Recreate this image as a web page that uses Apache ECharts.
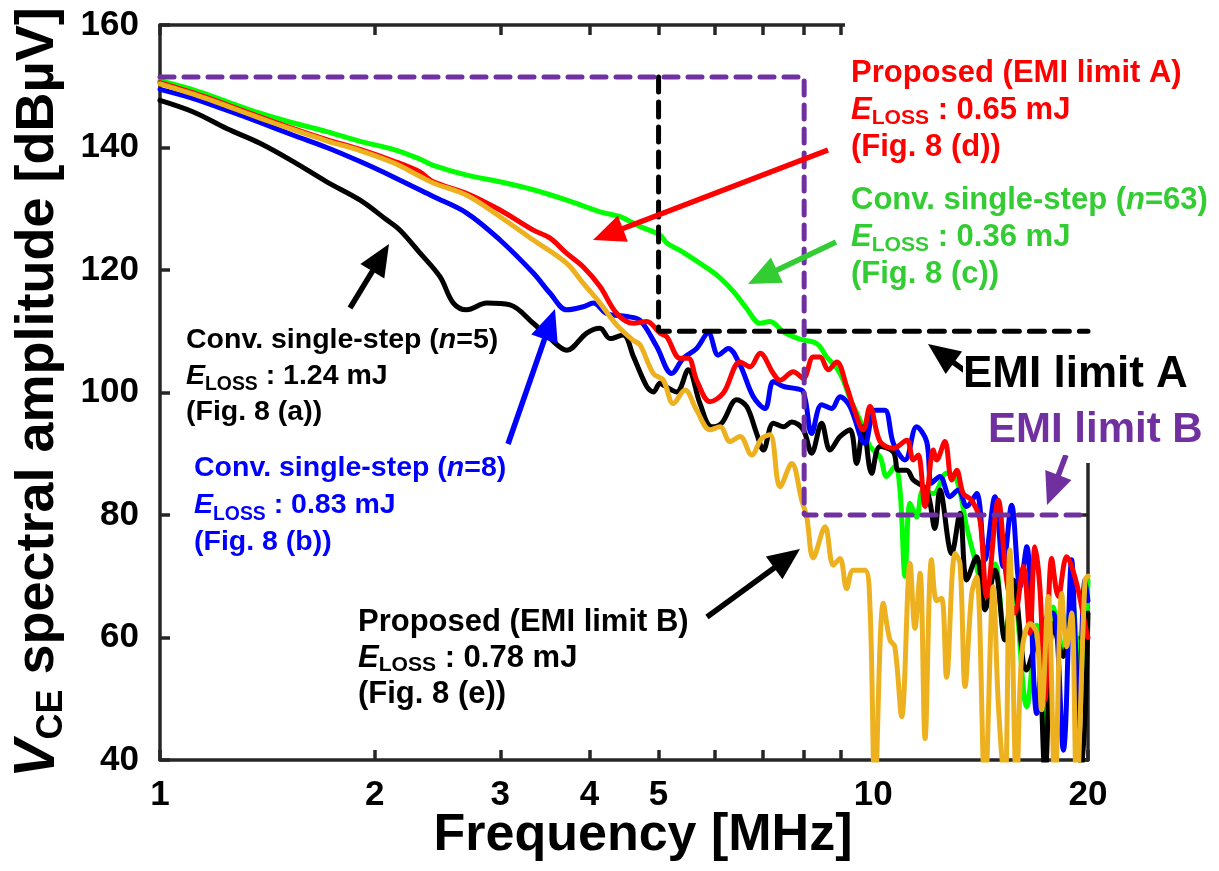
<!DOCTYPE html>
<html>
<head>
<meta charset="utf-8">
<script src="https://cdn.jsdelivr.net/npm/echarts@6/dist/echarts.min.js"></script>
<style>
html,body{margin:0;padding:0;background:#fff;}
#chart{width:1219px;height:871px;}
</style>
</head>
<body>
<div id="chart"></div>
<script>
// Axis ticks
const xTickValues = [1, 2, 3, 4, 5, 6, 7, 8, 9, 10, 20];
const xLabelValues = [1, 2, 3, 4, 5, 10, 20];
const yTicks = [40, 60, 80, 100, 120, 140, 160];

// EMI limits [MHz], [dBuV]
const limitAFreq = [5, 5, 20];
const limitAAmp = [151.5, 110, 110];
const limitBFreq = [1, 8, 8, 20];
const limitBAmp = [151.5, 151.5, 80, 80];

// Conv. single-step (n=5)
const blackFreq = [1.0, 1.114, 1.24, 1.381, 1.538, 1.713, 1.908, 2.078, 2.17, 2.314, 2.469, 2.578, 2.692, 2.871, 3.095, 3.337, 3.523, 3.718, 3.965, 4.139, 4.275, 4.462, 4.609, 4.812, 4.917, 5.023, 5.077, 5.301, 5.503, 5.715, 5.935, 6.13, 6.435, 6.646, 6.863, 7.013, 7.243, 7.481, 7.685, 7.978, 8.196, 8.464, 8.697, 8.982, 9.275, 9.477, 9.683, 9.948, 10.22, 10.67, 10.84, 11.14, 11.38, 11.88, 12.2, 12.4, 12.88, 13.23, 13.52, 13.96, 14.34, 14.81, 15.29, 15.71, 16.41, 16.95, 17.41, 17.88, 18.47, 18.97, 19.6, 20];
const blackAmp = [147.7, 145.8, 143.1, 140.7, 137.7, 134.4, 131.4, 128.2, 126.5, 122.8, 118.9, 114.6, 113.5, 114.6, 114.3, 111.3, 108.8, 106.9, 109.7, 110.5, 108.8, 109.4, 105.9, 101, 100.1, 101.5, 101.2, 100.1, 103.7, 98.2, 94.4, 95, 98.8, 97.7, 93.3, 90.6, 95, 94.4, 95.2, 93.9, 90.1, 95, 90.6, 92.8, 93.9, 88.4, 94.4, 86.8, 91.2, 90.3, 87.3, 87.3, 85.7, 84.1, 77.8, 84.1, 73.7, 80.3, 69.4, 73.2, 64.5, 71, 59.6, 69.4, 54.7, 59.6, 38, 62.3, 56.9, 64, 38, 64];

// Conv. single-step (n=8)
const blueFreq = [1.0, 1.114, 1.24, 1.381, 1.538, 1.713, 1.908, 2.124, 2.416, 2.692, 2.997, 3.337, 3.523, 3.718, 3.922, 4.05, 4.229, 4.511, 4.709, 4.97, 5.216, 5.415, 5.654, 5.871, 6.064, 6.262, 6.504, 6.79, 7.051, 7.243, 7.481, 7.725, 7.978, 8.196, 8.464, 8.745, 8.982, 9.275, 9.734, 10.055, 10.38, 10.67, 11.08, 11.5, 11.88, 12.07, 12.4, 12.81, 13.16, 13.52, 13.96, 14.34, 14.81, 15.21, 15.63, 16.06, 16.41, 16.95, 17.41, 17.88, 18.47, 18.97, 19.38, 19.81, 20];
const blueAmp = [149.5, 148, 146.1, 144.1, 142, 140, 137.7, 135.2, 132, 129.3, 124.9, 119.5, 116.2, 113.5, 114, 114.6, 112.9, 112.4, 111.8, 107.5, 103.1, 105.6, 107.2, 109.7, 106.1, 107.2, 104.5, 99.3, 97.4, 101.8, 101, 100.7, 100.1, 93.3, 98, 97.4, 99.3, 97.7, 91.7, 97.1, 97.1, 91.7, 89, 94.4, 92, 85.2, 86.3, 83, 84.1, 81.4, 83.5, 72.7, 83, 71.6, 81.6, 68.3, 74.8, 47.6, 62.9, 64, 41.6, 72.7, 46, 69.4, 66];

// Conv. single-step (n=63)
const greenFreq = [1.0, 1.114, 1.24, 1.381, 1.538, 1.713, 1.908, 2.124, 2.314, 2.416, 2.692, 2.997, 3.337, 3.718, 4.139, 4.415, 4.709, 5.023, 5.133, 5.358, 5.715, 6.03, 6.364, 6.646, 6.938, 7.167, 7.481, 7.894, 8.33, 8.605, 8.887, 9.078, 9.275, 9.579, 9.894, 10.22, 10.44, 10.72, 10.9, 11.08, 11.26, 11.5, 11.75, 12.14, 12.67, 13.09, 13.52, 13.96, 14.34, 14.81, 15.29, 15.71, 16.41, 16.95, 17.41, 17.88, 18.47, 18.97, 19.6, 20];
const greenAmp = [150.9, 149.4, 147.5, 145.6, 144, 142.6, 141, 139.7, 138.1, 137.1, 135.5, 134.4, 133.1, 131.4, 129.5, 128.7, 127.1, 125.7, 124.4, 123.2, 121.1, 119.2, 116.5, 113.7, 111.3, 111.6, 109.9, 108.7, 108, 105.8, 104, 102, 99, 95.5, 91.2, 89.5, 86.3, 87.9, 84.1, 70, 81.9, 79.7, 84.1, 83.5, 86.8, 85.7, 78, 71.6, 66, 72, 60, 68, 48.7, 62, 45, 65, 58, 66, 48, 69.4];

// Proposed (EMI limit A)
const redFreq = [1.0, 1.114, 1.24, 1.381, 1.538, 1.713, 1.908, 2.124, 2.314, 2.416, 2.692, 2.997, 3.337, 3.523, 3.718, 3.922, 4.139, 4.369, 4.609, 4.812, 5.023, 5.133, 5.358, 5.503, 5.654, 5.903, 6.163, 6.504, 6.716, 6.938, 7.243, 7.402, 7.725, 7.978, 8.238, 8.419, 8.649, 8.887, 9.177, 9.374, 9.683, 9.894, 10.22, 10.67, 11.14, 11.38, 11.56, 11.82, 12.14, 12.27, 12.6, 12.88, 13.09, 13.37, 13.74, 14.11, 14.42, 14.97, 15.38, 15.8, 16.23, 16.58, 16.85, 17.13, 17.41, 17.79, 18.17, 18.67, 19.28, 19.92, 20];
const redAmp = [150.6, 148.9, 147, 145, 143.1, 141.3, 139.7, 137.8, 136, 134.4, 132.5, 129.8, 126.5, 125.2, 122.7, 120.5, 117.3, 112.9, 111.3, 111.6, 109.7, 109.1, 105.6, 105.6, 102, 98.5, 99.9, 105, 104.2, 106.4, 103.1, 102, 103.4, 102.3, 105.8, 105.8, 103.7, 105, 101, 97.7, 93.9, 97.7, 92, 90.9, 92.2, 89, 89.8, 81.4, 90.6, 89, 92, 85.7, 87.3, 83.5, 82.4, 79.2, 66.7, 82.4, 69.4, 64, 71.6, 60.7, 74.8, 67.8, 49.8, 72.9, 66.7, 73.2, 68.8, 60.7, 60];

// Proposed (EMI limit B)
const orangeFreq = [1.0, 1.114, 1.24, 1.381, 1.538, 1.713, 1.908, 2.124, 2.314, 2.416, 2.692, 2.997, 3.337, 3.718, 3.922, 4.139, 4.369, 4.609, 4.709, 4.917, 5.077, 5.243, 5.445, 5.654, 5.903, 6.098, 6.297, 6.504, 6.754, 6.976, 7.167, 7.402, 7.685, 7.938, 8.066, 8.238, 8.559, 8.789, 8.982, 9.177, 9.374, 9.734, 9.894, 10.055, 10.33, 10.55, 10.72, 10.96, 11.26, 11.44, 11.63, 11.82, 12.07, 12.27, 12.47, 12.67, 13.02, 13.23, 13.45, 13.74, 13.96, 14.34, 14.73, 14.97, 15.29, 15.54, 15.89, 16.15, 16.58, 16.95, 17.22, 17.59, 17.98, 18.37, 18.67, 18.97, 19.28, 19.81, 20];
const orangeAmp = [150.4, 148.7, 146.8, 144.8, 142.9, 141.1, 139.5, 137.5, 135.3, 134.2, 132.2, 128.7, 124.9, 121.1, 117.8, 114.6, 111, 108.5, 107.8, 103.1, 102, 98.2, 100.4, 97.1, 93.9, 94.4, 92, 92.8, 89.8, 92.5, 93.1, 84.6, 88.4, 82.4, 79.7, 73, 78.1, 71.8, 72.9, 68, 71, 71, 65, 35, 65.6, 59.6, 58.5, 47.1, 72.1, 61.5, 70.5, 43.5, 72.7, 66, 66.4, 53.5, 73.7, 72.1, 52, 67.2, 69.9, 35, 68.3, 49.3, 35, 74.3, 35, 57.4, 62.3, 60.7, 48.2, 66.7, 35, 67.2, 58.5, 64, 35, 69.4, 70];

const zip = (xs, ys) => xs.map((x, i) => [x, ys[i]]);

const AXIS_COLOR = '#262626';
const FONT = '"Liberation Sans", Arial, sans-serif';
const PURPLE = '#7030a0';
const GREEN_TXT = '#33cc33';

const chart = echarts.init(document.getElementById('chart'), null, { renderer: 'canvas' });

const lineSeries = (name, xs, ys, color, z) => ({
  name, type: 'line', data: zip(xs, ys), showSymbol: false, smooth: 0.35,
  lineStyle: { color, width: 5, cap: 'round', join: 'round' }, z, clip: true, animation: false
});

const limitSeries = (name, xs, ys, color, dash, width) => ({
  name, type: 'line', data: zip(xs, ys), showSymbol: false,
  lineStyle: { color, width, type: dash, cap: 'round' }, z: 10, animation: false
});

// Rich text styles for the annotation blocks
const subRich = (color, size, lh) => ({
  b: { fontFamily: FONT, fontWeight: 'bold', fontSize: size, color, lineHeight: lh },
  e: { fontFamily: FONT, fontWeight: 'bold', fontStyle: 'italic', fontSize: size, color, lineHeight: lh },
  s: { fontFamily: FONT, fontWeight: 'bold', fontSize: size * 0.68, color, lineHeight: size * 0.8, verticalAlign: 'bottom' },
  i: { fontFamily: FONT, fontWeight: 'bold', fontStyle: 'italic', fontSize: size, color, lineHeight: lh }
});

function note(left, top, lines, color, size, lh) {
  return {
    type: 'text', left, top, z: 100,
    style: {
      text: lines.join('\n'), rich: subRich(color, size, lh || size * 1.2),
      fill: color, backgroundColor: '#fff'
    }
  };
}

function arrow(x1, y1, x2, y2, color) {
  const dx = x2 - x1, dy = y2 - y1, L = Math.hypot(dx, dy);
  const ux = dx / L, uy = dy / L, hl = 32, hw = 14;
  const bx = x2 - ux * hl, by = y2 - uy * hl;
  return [
    { type: 'line', z: 90, shape: { x1, y1, x2: bx + ux * 2, y2: by + uy * 2 }, style: { stroke: color, lineWidth: 5.5 } },
    { type: 'polygon', z: 90, shape: { points: [[x2, y2], [bx - uy * hw, by + ux * hw], [bx + uy * hw, by - ux * hw]] }, style: { fill: color } }
  ];
}

const axisLineStyle = { color: AXIS_COLOR, width: 3.5 };

const option = {
  animation: false,
  backgroundColor: '#fff',
  grid: { left: 160, right: 131, top: 25, bottom: 111, containLabel: false, outerBoundsMode: 'none' },
  xAxis: [{
    type: 'log', logBase: 10, min: 1, max: 20,
    name: 'Frequency [MHz]', nameLocation: 'middle', nameGap: 50, nameMoveOverlap: false,
    nameTextStyle: { fontFamily: FONT, fontWeight: 'bold', fontSize: 52, color: '#000', padding: [0, 0, 0, 38] },
    axisLine: { lineStyle: axisLineStyle },
    axisTick: { inside: true, length: 10, lineStyle: axisLineStyle, customValues: xTickValues },
    axisLabel: { customValues: xLabelValues, margin: 18, fontFamily: FONT, fontWeight: 'bold', fontSize: 35, color: '#000', formatter: v => String(Math.round(v)) },
    minorTick: { show: false }, splitLine: { show: false }
  }, {
    type: 'log', logBase: 10, min: 1, max: 20, position: 'top',
    axisLine: { lineStyle: axisLineStyle },
    axisTick: { inside: true, length: 10, lineStyle: axisLineStyle, customValues: xTickValues },
    axisLabel: { show: false }, splitLine: { show: false }
  }],
  yAxis: [{
    type: 'value', min: 40, max: 160, interval: 20,
    name: '{v|V}{c|CE}{n| spectral amplitude [dBµV]}', nameLocation: 'middle', nameGap: 90, nameRotate: 90, nameMoveOverlap: false,
    nameTextStyle: {
      rich: {
        v: { fontFamily: FONT, fontWeight: 'bold', fontStyle: 'italic', fontSize: 57, color: '#000', lineHeight: 64 },
        c: { fontFamily: FONT, fontWeight: 'bold', fontSize: 36, color: '#000', lineHeight: 42, verticalAlign: 'bottom' },
        n: { fontFamily: FONT, fontWeight: 'bold', fontSize: 54, color: '#000', lineHeight: 64 }
      }
    },
    axisLine: { show: true, lineStyle: axisLineStyle },
    axisTick: { show: true, inside: true, length: 10, lineStyle: axisLineStyle },
    axisLabel: { margin: 21, fontFamily: FONT, fontWeight: 'bold', fontSize: 35, color: '#000', customValues: yTicks },
    splitLine: { show: false }
  }, {
    type: 'value', min: 40, max: 160, interval: 20, position: 'right',
    axisLine: { show: true, lineStyle: axisLineStyle },
    axisTick: { show: true, inside: true, length: 10, lineStyle: axisLineStyle },
    axisLabel: { show: false }, splitLine: { show: false }
  }],
  series: [
    lineSeries('Conv. single-step (n=63)', greenFreq, greenAmp, '#00ff00', 2),
    lineSeries('Conv. single-step (n=5)', blackFreq, blackAmp, '#000000', 3),
    lineSeries('Conv. single-step (n=8)', blueFreq, blueAmp, '#0000ff', 4),
    lineSeries('Proposed (EMI limit A)', redFreq, redAmp, '#ff0000', 5),
    lineSeries('Proposed (EMI limit B)', orangeFreq, orangeAmp, '#edb120', 6),
    limitSeries('EMI limit A', limitAFreq, limitAAmp, '#000000', [15, 10], 5),
    limitSeries('EMI limit B', limitBFreq, limitBAmp, PURPLE, [14, 10], 5)
  ],
  graphic: [
    // blank margin strips where the annotation panel sits over the frame
    { type: 'rect', z: 1, shape: { x: 845, y: 17, width: 260, height: 21 }, style: { fill: '#fff' } },
    { type: 'rect', z: 1, shape: { x: 1076, y: 17, width: 24, height: 446 }, style: { fill: '#fff' } },
    note(851, 55, ['{b|Proposed (EMI limit A)}', '{e|E}{s|LOSS}{b| : 0.65 mJ}', '{b|(Fig. 8 (d))}'], '#ff0000', 31, 37),
    note(851, 182, ['{b|Conv. single-step (}{i|n}{b|=63)}', '{e|E}{s|LOSS}{b| : 0.36 mJ}', '{b|(Fig. 8 (c))}'], GREEN_TXT, 31, 37),
    note(963, 350, ['{b|EMI limit A}'], '#000000', 44, 50),
    note(988, 405, ['{b|EMI limit B}'], PURPLE, 42, 50),
    note(186, 322, ['{b|Conv. single-step (}{i|n}{b|=5)}', '{e|E}{s|LOSS}{b| : 1.24 mJ}', '{b|(Fig. 8 (a))}'], '#000000', 28.5, 36),
    note(194, 450, ['{b|Conv. single-step (}{i|n}{b|=8)}', '{e|E}{s|LOSS}{b| : 0.83 mJ}', '{b|(Fig. 8 (b))}'], '#0000ff', 28.5, 37),
    note(358, 604, ['{b|Proposed (EMI limit B)}', '{e|E}{s|LOSS}{b| : 0.78 mJ}', '{b|(Fig. 8 (e))}'], '#000000', 31, 36),
    ...arrow(828, 150, 593, 240, '#ff0000'),
    ...arrow(836, 242, 748, 284, GREEN_TXT),
    ...arrow(350, 308, 389, 244, '#000000'),
    ...arrow(508, 444, 555, 309, '#0000ff'),
    ...arrow(707, 617, 800, 549, '#000000'),
    ...arrow(968, 373, 928, 344, '#000000'),
    ...arrow(1066, 455, 1047, 505, PURPLE)
  ]
};

chart.setOption(option);
</script>
</body>
</html>
